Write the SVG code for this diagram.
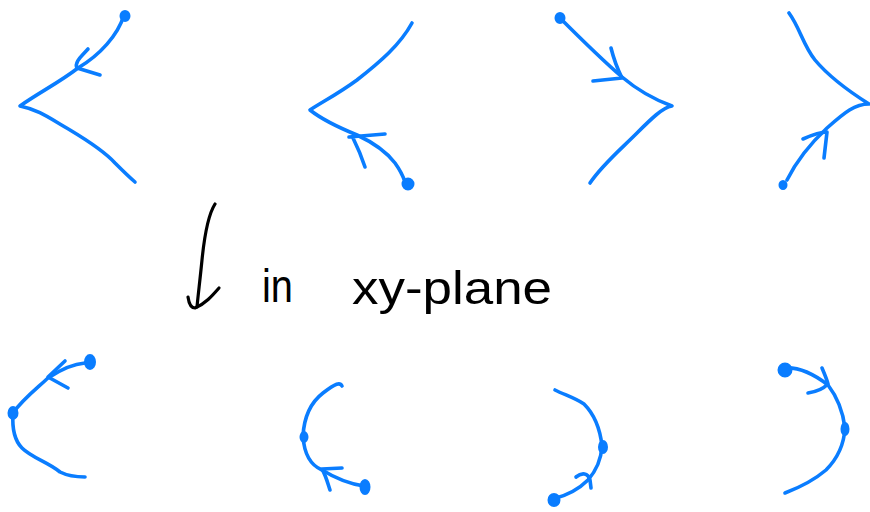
<svg xmlns="http://www.w3.org/2000/svg" width="870" height="512" viewBox="0 0 870 512">
<style>
.s{fill:none;stroke:#0a7dff;stroke-width:3.6;stroke-linecap:round;stroke-linejoin:round}
.d{fill:#0a7dff;stroke:#0a7dff;stroke-width:2}
.k{fill:none;stroke:#000;stroke-width:3.2;stroke-linecap:round;stroke-linejoin:round}
.t{font-family:"Liberation Sans","DejaVu Sans",sans-serif;font-size:46px;fill:#000}
</style>
<rect width="870" height="512" fill="#fff"/>
<g id="curve1">
<path class="s" d="M124,15 C118,35 100,55 78,68 C60,82 40,92 20,106 C40,110 52,120 70,130 C90,142 105,152 115,163 C122,170 128,176 135,182"/>
<path class="s" d="M88,49 C82,56 74,62 77,68 L100,75"/>
<ellipse class="d" cx="125" cy="16" rx="4.5" ry="5"/>
</g>
<g id="curve2">
<path class="s" d="M412,23 C400,45 380,62 357,80 C338,94 322,102 310,110 C320,118 335,126 357,135 C372,142 385,150 395,163 C400,170 403,176 405,182"/>
<path class="s" d="M385,134 L349,137 M353,138 C358,148 362,158 365,167"/>
<ellipse class="d" cx="408" cy="184" rx="5.5" ry="5.5"/>
</g>
<g id="curve3">
<path class="s" d="M560,18 C580,38 600,58 622,77 C635,88 650,98 672,106 C663,107 650,120 637,133 C620,150 602,165 590,183"/>
<path class="s" d="M611,48 C614,60 618,70 622,78 L593,81"/>
<ellipse class="d" cx="560" cy="18" rx="4.5" ry="5"/>
</g>
<g id="curve4">
<path class="s" d="M789,13 C800,28 803,45 815,60 C830,78 850,92 869,104 C855,104 845,112 827,128 C812,142 797,160 787,180"/>
<path class="s" d="M803,139 C812,135 820,132 827,132 L824,158"/>
<ellipse class="d" cx="783" cy="185" rx="3.5" ry="4"/>
</g>
<g id="label">
<path class="k" d="M215,204 C208,215 204,240 202,260 C200,280 198,296 197,307"/>
<path class="k" d="M188,297 C189,304 191,308 195,308 C205,304 212,296 219,288"/>
<text class="t" x="262" y="302" textLength="31" lengthAdjust="spacingAndGlyphs">in</text>
<text class="t" x="352" y="304" textLength="200" lengthAdjust="spacingAndGlyphs">xy-plane</text>
</g>
<g id="curve5">
<path class="s" d="M85,363 C72,364 60,370 48,378 C35,390 22,400 13,413 C12,428 14,440 22,448 C32,458 48,462 60,472 C70,477 78,477 85,477"/>
<path class="s" d="M65,361 L48,377 L68,388"/>
<ellipse class="d" cx="90" cy="362" rx="5" ry="7"/>
<ellipse class="d" cx="13" cy="413" rx="4.5" ry="6"/>
</g>
<g id="curve6">
<path class="s" d="M342,386 C340,382 336,383 323,393 C310,403 304,418 303,436 C304,452 310,465 322,470 C335,478 350,484 364,486"/>
<path class="s" d="M342,468 L322,469 C326,476 328,484 330,490"/>
<ellipse class="d" cx="304" cy="437" rx="3.5" ry="5"/>
<ellipse class="d" cx="365" cy="487" rx="4.5" ry="7"/>
</g>
<g id="curve7">
<path class="s" d="M555,390 C565,395 575,398 584,404 C595,415 600,428 602,446 C601,462 595,472 588,480 C578,490 565,496 553,499"/>
<path class="s" d="M576,477 C582,472 588,473 590,480 L591,488"/>
<ellipse class="d" cx="603" cy="447" rx="4" ry="6"/>
<ellipse class="d" cx="554" cy="500" rx="5.5" ry="6"/>
</g>
<g id="curve8">
<path class="s" d="M785,368 C800,367 815,375 828,385 C838,398 843,412 845,428 C844,445 838,458 826,470 C812,482 798,488 785,493"/>
<path class="s" d="M822,368 C825,375 827,380 828,384 C822,390 815,392 808,393"/>
<ellipse class="d" cx="785" cy="370" rx="6.5" ry="6.5"/>
<ellipse class="d" cx="845" cy="429" rx="3.5" ry="6"/>
</g>
</svg>
